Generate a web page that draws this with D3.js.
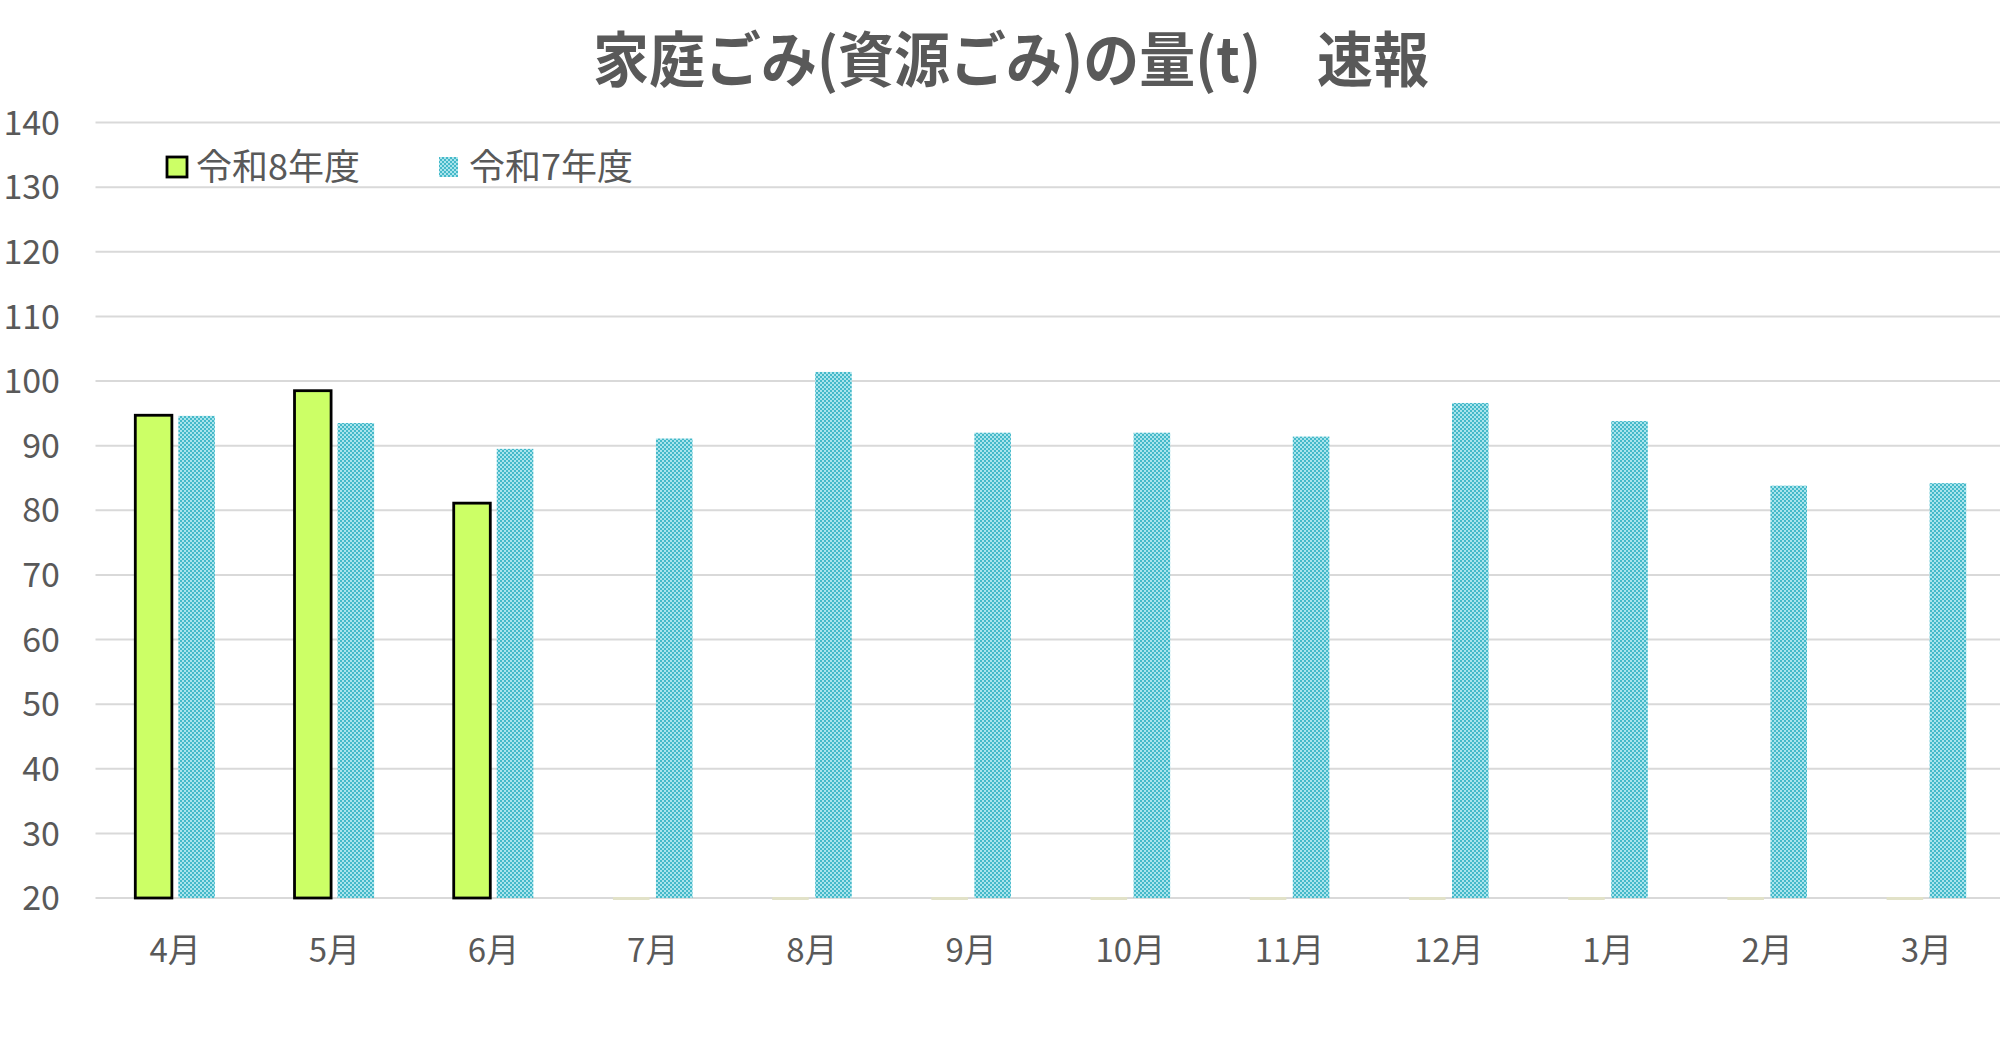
<!DOCTYPE html>
<html>
<head>
<meta charset="utf-8">
<script src="https://cdn.jsdelivr.net/npm/d3@7"></script>
<style>
  body { margin: 0; background: #fff; }
  svg text { font-family: "Noto Sans CJK JP", "Noto Sans", sans-serif; fill: #595959; }
</style>
</head>
<body>
<div id="chart-container"></div>
<script>
// data
const months = ["4月", "5月", "6月", "7月", "8月", "9月", "10月", "11月", "12月", "1月", "2月", "3月"];
const seriesNames = ["令和8年度", "令和7年度"];
const r8Values = [94.7, 98.5, 81.1, 0, 0, 0, 0, 0, 0, 0, 0, 0];
const r7Values = [94.6, 93.5, 89.5, 91.1, 101.4, 92.0, 92.0, 91.4, 96.6, 93.8, 83.8, 84.2];
const yTicks = [20, 30, 40, 50, 60, 70, 80, 90, 100, 110, 120, 130, 140];
const titleText = "家庭ごみ(資源ごみ)の量(t)　速報";

const W = 2000, H = 1043;
const plot = { left: 95.5, right: 2006, top: 122.5, bottom: 898 };

const svg = d3.select("#chart-container")
  .append("svg")
  .attr("width", W)
  .attr("height", H);

// dotted fill like the excel pattern
const defs = svg.append("defs");
const pat = defs.append("pattern")
  .attr("id", "dots")
  .attr("patternUnits", "userSpaceOnUse")
  .attr("width", 4)
  .attr("height", 4);
pat.append("rect").attr("width", 4).attr("height", 4).attr("fill", "#aae4ec");
pat.append("rect").attr("width", 2).attr("height", 2).attr("fill", "#45b9c9");
pat.append("rect").attr("x", 2).attr("y", 2).attr("width", 2).attr("height", 2).attr("fill", "#45b9c9");

const x0 = d3.scaleBand()
  .domain(months)
  .range([plot.left, plot.right])
  .paddingInner(0.5)
  .paddingOuter(0.25);

const x1 = d3.scaleBand()
  .domain(seriesNames)
  .range([0, x0.bandwidth()])
  .paddingInner(0.15);

const y = d3.scaleLinear()
  .domain([20, 140])
  .range([plot.bottom, plot.top]);

// gridlines
svg.append("g")
  .selectAll("line")
  .data(yTicks)
  .join("line")
  .attr("x1", plot.left)
  .attr("x2", W)
  .attr("y1", d => y(d))
  .attr("y2", d => y(d))
  .attr("stroke", "#d9d9d9")
  .attr("stroke-width", 2);

// y labels
svg.append("g")
  .selectAll("text")
  .data(yTicks)
  .join("text")
  .attr("x", 60)
  .attr("y", d => y(d))
  .attr("dy", "0.36em")
  .attr("text-anchor", "end")
  .attr("font-size", 34)
  .text(d => d);

// x labels
svg.append("g")
  .selectAll("text")
  .data(months)
  .join("text")
  .attr("x", d => x0(d) + x0.bandwidth() / 2)
  .attr("y", 962)
  .attr("text-anchor", "middle")
  .attr("font-size", 33)
  .text(d => d);

const rows = months.map((m, i) => ({ month: m, r8: r8Values[i], r7: r7Values[i] }));

// 令和8年度
const g8 = svg.append("g");
g8.selectAll("rect.r8")
  .data(rows.filter(d => d.r8 >= 20))
  .join("rect")
  .attr("class", "r8")
  .attr("x", d => x0(d.month) + x1(seriesNames[0]))
  .attr("y", d => y(d.r8))
  .attr("width", x1.bandwidth())
  .attr("height", d => y(20) - y(d.r8))
  .attr("fill", "#ccff66")
  .attr("stroke", "#000")
  .attr("stroke-width", 2.8);

// empty months: clipped bar sits flat on the axis
g8.selectAll("rect.empty")
  .data(rows.filter(d => d.r8 < 20))
  .join("rect")
  .attr("class", "empty")
  .attr("x", d => x0(d.month) + x1(seriesNames[0]))
  .attr("y", y(20) - 1)
  .attr("width", x1.bandwidth())
  .attr("height", 3)
  .attr("fill", "#e2e2c8");

// 令和7年度
svg.append("g")
  .selectAll("rect")
  .data(rows)
  .join("rect")
  .attr("x", d => x0(d.month) + x1(seriesNames[1]))
  .attr("y", d => y(d.r7))
  .attr("width", x1.bandwidth())
  .attr("height", d => y(20) - y(d.r7))
  .attr("fill", "url(#dots)");

// legend
const legend = svg.append("g").attr("transform", "translate(0,167)");
legend.append("rect")
  .attr("x", 167).attr("y", -10)
  .attr("width", 20).attr("height", 20)
  .attr("fill", "#ccff66")
  .attr("stroke", "#000")
  .attr("stroke-width", 2.8);
legend.append("text")
  .attr("x", 196).attr("dy", "0.36em")
  .attr("font-size", 36)
  .text(seriesNames[0]);
legend.append("rect")
  .attr("x", 439).attr("y", -10)
  .attr("width", 19).attr("height", 20)
  .attr("fill", "url(#dots)");
legend.append("text")
  .attr("x", 469).attr("dy", "0.36em")
  .attr("font-size", 36)
  .text(seriesNames[1]);

// title
svg.append("text")
  .attr("x", 1011)
  .attr("y", 82)
  .attr("text-anchor", "middle")
  .attr("font-size", 60)
  .attr("font-weight", "bold")
  .attr("textLength", 836)
  .attr("lengthAdjust", "spacingAndGlyphs")
  .text(titleText);
</script>
</body>
</html>
